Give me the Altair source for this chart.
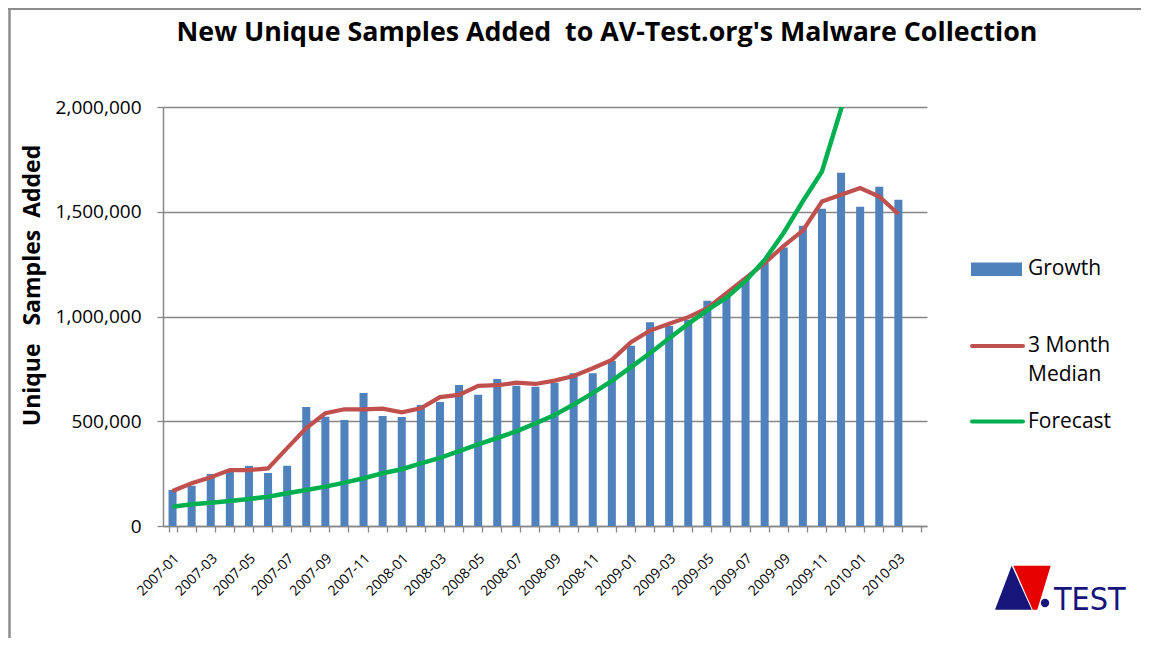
import altair as alt
import pandas as pd

# ---------------- data ----------------
months = [
    "2007-01", "2007-02", "2007-03", "2007-04", "2007-05", "2007-06",
    "2007-07", "2007-08", "2007-09", "2007-10", "2007-11", "2007-12",
    "2008-01", "2008-02", "2008-03", "2008-04", "2008-05", "2008-06",
    "2008-07", "2008-08", "2008-09", "2008-10", "2008-11", "2008-12",
    "2009-01", "2009-02", "2009-03", "2009-04", "2009-05", "2009-06",
    "2009-07", "2009-08", "2009-09", "2009-10", "2009-11", "2009-12",
    "2010-01", "2010-02", "2010-03",
]
empty_slots = ["2010-04"]

growth = [
    172000, 192000, 248000, 267000, 287000, 253000, 287000, 568000,
    522000, 506000, 635000, 525000, 520000, 578000, 592000, 673000,
    626000, 702000, 670000, 665000, 684000, 729000, 729000, 788000,
    860000, 973000, 955000, 984000, 1075000, 1100000, 1183000, 1255000,
    1329000, 1433000, 1514000, 1686000, 1524000, 1619000, 1557000,
]

median_3m = [
    167000, 204000, 233000, 267000, 267000, 275000, 372000, 467000,
    538000, 557000, 557000, 560000, 543000, 562000, 615000, 626000,
    669000, 672000, 684000, 678000, 694000, 716000, 753000, 793000,
    877000, 933000, 965000, 997000, 1040000, 1111000, 1183000, 1255000,
    1337000, 1410000, 1549000, 1581000, 1613000, 1573000, 1489000,
]

forecast = [
    92000, 104000, 111000, 119000, 129000, 140000, 156000, 172000,
    188000, 207000, 228000, 252000, 271000, 299000, 325000, 357000,
    390000, 420000, 452000, 490000, 530000, 580000, 634000, 693000,
    758000, 825000, 896000, 965000, 1030000, 1090000, 1170000, 1270000,
    1400000, 1550000, 1692000, 1990000, 2300000,
]

y_ticks = [0, 500000, 1000000, 1500000, 2000000]

title_text = "New Unique Samples Added\u00a0\u00a0to AV-Test.org's Malware Collection"
y_title = "Unique\u00a0\u00a0\u00a0Samples\u00a0\u00a0Added"

# ---------------- tables ----------------
df = pd.DataFrame({"month": months, "growth": growth, "median": median_3m})
fdf = pd.DataFrame({"month": months[: len(forecast)], "forecast": forecast})

BLUE = "#4F81BD"
RED = "#C0504D"
GREEN = "#00B050"
GRAY = "#878787"
NAVY = "#16167A"
FONT = "Open Sans"

W, H = 764, 419

xscale = alt.Scale(domain=months + empty_slots, paddingInner=0.58, paddingOuter=0.29)
yscale = alt.Scale(domain=[0, 2000000], nice=False)

xaxis = alt.Axis(
    title=None,
    tickBand="extent",
    labelAngle=-45,
    labelAlign="right",
    labelBaseline="middle",
    labelExpr="toNumber(substring(datum.value, 5, 7)) % 2 == 1 ? datum.value : ''",
    labelFont=FONT,
    labelFontSize=14,
    labelColor="black",
    labelPadding=24,
    labelOffset=4,
    labelOverlap=False,
    tickColor=GRAY,
    tickSize=6,
    tickWidth=1.3,
    domainColor=GRAY,
    domainWidth=1.5,
    grid=False,
)

yaxis = alt.Axis(
    title=y_title,
    titleFont=FONT,
    titleFontSize=23,
    titleFontWeight="bold",
    titleColor="black",
    titleAngle=270,
    titleAlign="center",
    titleBaseline="middle",
    titleX=-131,
    titleY=178,
    values=y_ticks,
    format=",d",
    labelFont=FONT,
    labelFontSize=19,
    labelColor="black",
    labelPadding=16,
    tickColor=GRAY,
    tickSize=6,
    tickWidth=1.3,
    domainColor=GRAY,
    domainWidth=1.5,
    grid=True,
    gridColor=GRAY,
    gridWidth=1.4,
)

X = alt.X("month:N", scale=xscale, axis=xaxis, sort=None)

bars = alt.Chart(df).mark_bar(color=BLUE).encode(
    x=X,
    y=alt.Y("growth:Q", scale=yscale, axis=yaxis),
)

median_line = alt.Chart(df).mark_line(color=RED, strokeWidth=4.2).encode(
    x=X,
    y=alt.Y("median:Q", scale=yscale, axis=yaxis),
)

forecast_line = alt.Chart(fdf).mark_line(color=GREEN, strokeWidth=4.5, clip=True).encode(
    x=X,
    y=alt.Y("forecast:Q", scale=yscale, axis=yaxis),
)

one = alt.Data(values=[{"k": 1}])

def txt(text, x, y, size, weight="normal", align="left", baseline="middle", color="black", font=FONT):
    return alt.Chart(one).mark_text(
        text=text, font=font, fontSize=size, fontWeight=weight,
        align=align, baseline=baseline, color=color,
    ).encode(x=alt.value(x), y=alt.value(y))

# chart title (as text, centered over the whole figure like the original)
title = txt(title_text, 444, -66, 26.8, weight="bold", align="center", baseline="alphabetic")

# legend (manual, Excel style)
LEG = 21
leg_growth_sw = alt.Chart(one).mark_rect(color=BLUE).encode(
    x=alt.value(808), x2=alt.value(859), y=alt.value(155.5), y2=alt.value(169)
)
leg_growth_tx = txt("Growth", 865, 162, LEG)
leg_med_sw = alt.Chart(one).mark_rule(color=RED, strokeWidth=4, strokeCap="round").encode(
    x=alt.value(809), x2=alt.value(860), y=alt.value(239)
)
leg_med_tx1 = txt("3 Month", 865, 239, LEG)
leg_med_tx2 = txt("Median", 865, 268, LEG)
leg_fc_sw = alt.Chart(one).mark_rule(color=GREEN, strokeWidth=4, strokeCap="round").encode(
    x=alt.value(809), x2=alt.value(860), y=alt.value(314.5)
)
leg_fc_tx = txt("Forecast", 865, 314.5, LEG)

# outer frame (left and top edges of the picture)
frame_left = alt.Chart(one).mark_rule(color="#8c8c8c", strokeWidth=2.5).encode(
    x=alt.value(-153.5), y=alt.value(-99), y2=alt.value(540)
)
frame_top = alt.Chart(one).mark_rule(color="#8c8c8c", strokeWidth=2).encode(
    x=alt.value(-155), x2=alt.value(980), y=alt.value(-98)
)

# AV-TEST logo
logo_red = alt.Chart(one).mark_point(
    shape="M-0.346,-0.786L0.989,-0.786L0.511,0.786L0.346,0.786Z",
    filled=True, size=3136, color="#E60000", opacity=1, strokeWidth=0,
).encode(x=alt.value(860), y=alt.value(480.7))
logo_navy = alt.Chart(one).mark_point(
    shape="M-1,0.786L-0.404,-0.786L0.311,0.786Z",
    filled=True, size=3136, color=NAVY, opacity=1, strokeWidth=0,
).encode(x=alt.value(860), y=alt.value(480.7))
logo_dot = alt.Chart(one).mark_point(
    shape="circle", filled=True, size=70, color=NAVY, opacity=1, strokeWidth=0,
).encode(x=alt.value(882), y=alt.value(496))
logo_text = txt("TEST", 891, 503, 32, align="left", baseline="alphabetic", color=NAVY,
                font="Liberation Sans Narrow, DejaVu Sans Condensed, Liberation Sans")

chart = alt.layer(
    frame_left, frame_top,
    bars, median_line, forecast_line,
    title,
    leg_growth_sw, leg_growth_tx, leg_med_sw, leg_med_tx1, leg_med_tx2, leg_fc_sw, leg_fc_tx,
    logo_red, logo_navy, logo_dot, logo_text,
).properties(
    width=W, height=H,
    background="white",
    autosize=alt.AutoSizeParams(type="none"),
    padding={"left": 155, "top": 99, "right": 214, "bottom": 112},
).configure_view(stroke=None)

chart.save("out.html", embed_options={"renderer": "svg", "actions": False})
